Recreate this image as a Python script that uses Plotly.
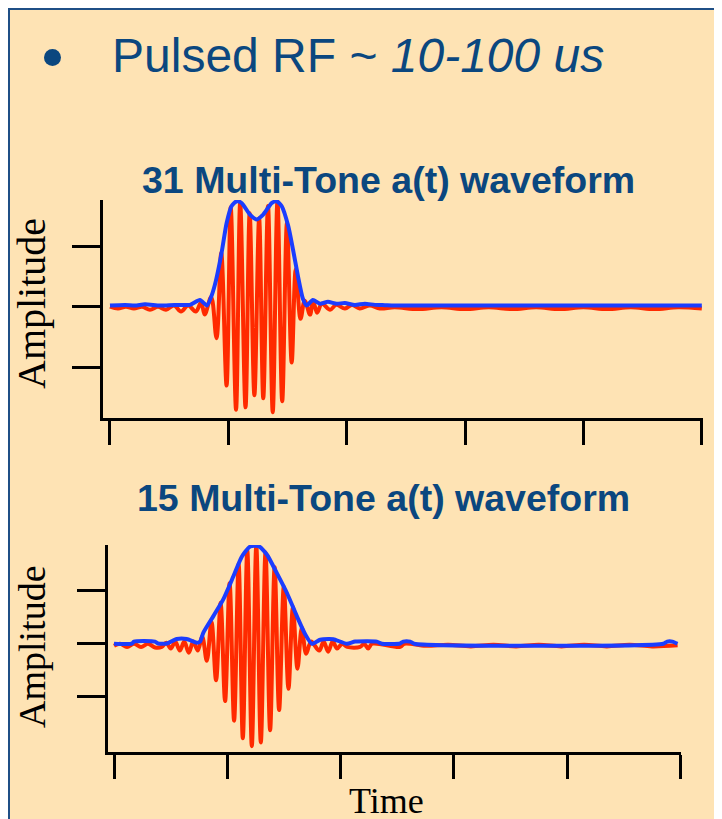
import plotly.graph_objects as go

# ---------------- data (time in arbitrary units 0..100, amplitude in tick units) -------------
tick_times = [0, 20, 40, 60, 80, 100]
amp_ticks = [-1, 0, 1]

# 31-tone waveform: carrier extrema (red) and envelope (blue)
t31_wave = [0, 1.35, 2.70, 4.05, 5.41, 6.76, 8.11, 9.46, 10.81, 12.0, 13.2, 14.5, 15.4, 16.0, 17.1,
            18.0, 18.8, 19.7, 20.4, 21.3, 22.0, 22.9, 23.6, 24.4, 25.2, 25.9, 26.7, 27.5, 28.3,
            29.1, 29.9, 30.7, 31.4, 32.2, 32.9, 33.8, 34.3, 35.0, 35.8, 37.2, 38.2, 39.7, 40.9,
            42.2, 43.9, 45.6, 48.1, 52, 56, 60, 64, 68, 72, 76, 80, 84, 88, 92, 96, 100]
a31_wave = [0, -0.03, 0, -0.03, 0, -0.05, 0, -0.05, 0.02, -0.08, 0.02, -0.08, 0.07, -0.13, 0.16,
            -0.52, 0.89, -1.30, 1.64, -1.70, 1.72, -1.66, 1.54, -1.46, 1.46, -1.51, 1.66, -1.74, 1.74,
            -1.56, 1.38, -0.92, 0.62, -0.20, 0.10, -0.13, 0.10, -0.10, 0.05, -0.05, 0.03, -0.03, 0.03,
            -0.03, 0.02, -0.03, -0.01, -0.04, -0.01, -0.04, -0.01, -0.04, -0.01, -0.04, -0.01, -0.04,
            -0.01, -0.04, -0.01, -0.03]
t31_env = [0, 2.53, 4.22, 5.91, 8.45, 10.98, 13.51, 15.20, 16.38, 17.23, 17.90, 18.86, 19.71, 20.55,
           21.40, 22.24, 23.65, 24.78, 25.89, 27.31, 28.16, 29.00, 30.12, 30.91, 31.75, 32.60, 33.22,
           34.29, 35.47, 36.82, 38.29, 39.69, 41.38, 43.07, 44.76, 46.45, 48.14, 100]
a31_env = [0.02, 0.03, 0.02, 0.04, 0.02, 0.03, 0.03, 0.11, 0.02, 0.20, 0.43, 0.89, 1.38, 1.66,
           1.74, 1.71, 1.52, 1.44, 1.52, 1.71, 1.74, 1.66, 1.33, 0.95, 0.51, 0.13, 0.02,
           0.11, 0.05, 0.08, 0.05, 0.06, 0.03, 0.05, 0.03, 0.025, 0.02, 0.02]

# 15-tone waveform
t15_wave = [0, 1.06, 2.30, 3.53, 4.77, 6.01, 7.24, 8.43, 9.22, 10.02, 10.81, 11.61, 12.40, 13.20,
            13.99, 14.79, 15.58, 16.38, 17.21, 18.02, 18.82, 19.61, 20.41, 21.20, 22.00, 22.74,
            23.53, 24.33, 25.12, 25.92, 26.75, 27.56, 28.36, 29.15, 29.98, 30.80, 31.59, 32.39,
            33.16, 33.92, 34.80, 36.22, 37.01, 37.81, 38.60, 39.40, 40.28, 41.17, 43.46, 44.17,
            44.88, 45.58, 50.53, 51.24, 55, 59, 63, 67, 71, 75, 79, 83, 87, 91, 95, 99.5]
a15_wave = [-0.04, 0, -0.06, 0, -0.06, 0, -0.07, -0.06, 0.02, -0.09, 0.04, -0.13, 0.04, -0.17,
            0.04, -0.13, 0.13, -0.32, 0.41, -0.69, 0.77, -1.08, 1.14, -1.45, 1.50, -1.78,
            1.76, -1.93, 1.85, -1.86, 1.72, -1.63, 1.44, -1.25, 1.08, -0.85, 0.69, -0.47,
            0.30, -0.19, 0.04, -0.13, 0.04, -0.15, 0.04, -0.09, 0, -0.06, -0.06, 0,
            -0.09, 0, -0.06, 0, -0.04, -0.02, -0.05, -0.02, -0.05, -0.02, -0.05, -0.02, -0.05,
            -0.02, -0.05, -0.03]
t15_env = [0, 3.13, 3.53, 7.24, 7.77, 9.31, 11.08, 12.84, 14.61, 15.19, 15.78, 17.54, 19.31, 21.08,
           22.56, 24.03, 25.49, 26.98, 28.75, 30.51, 32.28, 33.75, 34.93, 36.40, 37.86, 38.74,
           41.11, 42.58, 46.41, 47.30, 50.53, 51.06, 52.30, 53.0, 97.0, 97.65, 98.59, 99.47]
a15_env = [0, 0, 0.04, 0.04, 0.005, 0.005, 0.09, 0.09, 0.02, 0.04, 0.21, 0.52, 0.84, 1.27,
           1.64, 1.83, 1.84, 1.68, 1.33, 0.96, 0.52, 0.18, 0, 0.075, 0.09, 0.085,
           0, 0.04, 0.04, 0, 0.005, 0.04, 0.04, 0, 0, 0.04, 0.04, 0]

titles = ["31 Multi-Tone a(t) waveform", "15 Multi-Tone a(t) waveform"]

RED = "#FF2A00"
BLUE = "#1B3DFF"
NAVY = "#0B477F"
BEIGE = "#FEE3B4"

W, H = 722, 819
OFF = 8  # page body margin
px = lambda x: (x - OFF) / W
py = lambda y: 1 - (y - OFF) / H

fig = go.Figure()
fig.add_trace(go.Scatter(x=t31_wave, y=a31_wave, mode="lines", line=dict(color=RED, width=4, shape="spline", smoothing=1),
                         xaxis="x", yaxis="y", hoverinfo="skip"))
fig.add_trace(go.Scatter(x=t31_env, y=a31_env, mode="lines", line=dict(color=BLUE, width=4, shape="spline", smoothing=0.6),
                         xaxis="x", yaxis="y", hoverinfo="skip"))
fig.add_trace(go.Scatter(x=t15_wave, y=a15_wave, mode="lines", line=dict(color=RED, width=4, shape="spline", smoothing=1),
                         xaxis="x2", yaxis="y2", hoverinfo="skip"))
fig.add_trace(go.Scatter(x=t15_env, y=a15_env, mode="lines", line=dict(color=BLUE, width=4, shape="spline", smoothing=0.6),
                         xaxis="x2", yaxis="y2", hoverinfo="skip"))

axis_common = dict(showline=True, linecolor="black", linewidth=3, ticks="outside", tickwidth=3,
                   tickcolor="black", showticklabels=False, showgrid=False, zeroline=False, fixedrange=True)

fig.update_layout(
    width=W, height=H, margin=dict(l=0, r=0, t=0, b=0),
    paper_bgcolor=BEIGE, plot_bgcolor="rgba(0,0,0,0)", showlegend=False,
    xaxis=dict(domain=[px(103), px(703)], range=[-1.18, 100.2], tickvals=tick_times, ticklen=24,
               anchor="y", **axis_common),
    yaxis=dict(domain=[py(418), py(200)], range=[-1.836, 1.76], tickvals=amp_ticks, ticklen=28,
               anchor="x", **axis_common),
    xaxis2=dict(domain=[px(108), px(681)], range=[-1.06, 100.1], tickvals=tick_times, ticklen=24,
                anchor="y2", **axis_common),
    yaxis2=dict(domain=[py(752), py(545)], range=[-2.04, 1.86], tickvals=amp_ticks, ticklen=28,
                anchor="x2", **axis_common),
    shapes=[
        dict(type="rect", xref="paper", yref="paper", x0=1 / W, x1=1.05, y0=-0.05, y1=1 - 1 / H,
             fillcolor="rgba(0,0,0,0)", line=dict(color="#1F4F86", width=2), layer="below"),
        dict(type="circle", xref="paper", yref="paper", x0=px(44), x1=px(61), y0=py(66), y1=py(49),
             fillcolor=NAVY, line=dict(width=0)),
    ],
    annotations=[
        dict(xref="paper", yref="paper", x=px(110), y=py(55), xanchor="left", yanchor="middle",
             text="Pulsed RF ~ <i>10-100 us</i>", showarrow=False,
             font=dict(family="Liberation Sans, Arial", size=48, color=NAVY)),
        dict(xref="paper", yref="paper", x=px(389), y=py(180), xanchor="center", yanchor="middle",
             text="<b>%s</b>" % titles[0], showarrow=False,
             font=dict(family="Liberation Sans, Arial", size=37.5, color=NAVY)),
        dict(xref="paper", yref="paper", x=px(383), y=py(498), xanchor="center", yanchor="middle",
             text="<b>%s</b>" % titles[1], showarrow=False,
             font=dict(family="Liberation Sans, Arial", size=37.5, color=NAVY)),
        dict(xref="paper", yref="paper", x=px(31), y=py(304), xanchor="center", yanchor="middle",
             text="Amplitude", textangle=-90, showarrow=False,
             font=dict(family="Liberation Serif, Times New Roman", size=40, color="black")),
        dict(xref="paper", yref="paper", x=px(32), y=py(647), xanchor="center", yanchor="middle",
             text="Amplitude", textangle=-90, showarrow=False,
             font=dict(family="Liberation Serif, Times New Roman", size=38, color="black")),
        dict(xref="paper", yref="paper", x=px(386), y=py(801), xanchor="center", yanchor="middle",
             text="Time", showarrow=False,
             font=dict(family="Liberation Serif, Times New Roman", size=36, color="black")),
    ],
)

fig.write_html("out.html")
